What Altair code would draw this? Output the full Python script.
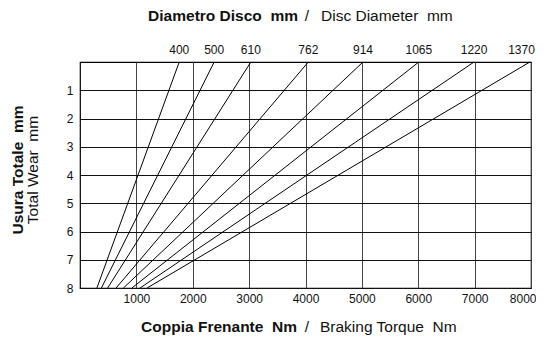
import altair as alt
import pandas as pd

# Disc diameters (mm) and the braking torque (Nm) of each line at 0 mm and 8 mm total wear
diameters = [400, 500, 610, 762, 914, 1065, 1220, 1370]
torque_at_zero_wear = [1760, 2380, 3030, 4050, 5020, 6010, 6990, 7980]
torque_at_max_wear = [300, 380, 490, 640, 770, 920, 1065, 1190]
wear_levels = [0, 8]

x_ticks = [1000, 2000, 3000, 4000, 5000, 6000, 7000, 8000]
y_ticks = [1, 2, 3, 4, 5, 6, 7, 8]

FONT = "Liberation Sans"
NB = "\u00a0"

rows = []
for d, t0, t8 in zip(diameters, torque_at_zero_wear, torque_at_max_wear):
    rows.append({"diameter": d, "torque": t0, "wear": wear_levels[0]})
    rows.append({"diameter": d, "torque": t8, "wear": wear_levels[1]})
lines_df = pd.DataFrame(rows)
labels_df = pd.DataFrame({"diameter": [str(d) for d in diameters], "torque": torque_at_zero_wear})

W, H = 451, 226

x_enc = alt.X(
    "torque:Q",
    scale=alt.Scale(domain=[0, 8000], nice=False, zero=True),
    axis=alt.Axis(
        values=x_ticks, format="d", title=None, grid=True, gridColor="#444444", gridWidth=1,
        ticks=False, domain=False, labelFont=FONT, labelFontSize=12,
        labelColor="#111111", labelPadding=5, labelFlush=True, labelFlushOffset=5,
    ),
)
y_enc = alt.Y(
    "wear:Q",
    scale=alt.Scale(domain=[0, 8], reverse=True, nice=False),
    axis=alt.Axis(
        values=y_ticks, format="d", title=None, grid=True, gridColor="#111111", gridWidth=1,
        ticks=False, domain=False, labelFont=FONT, labelFontSize=12,
        labelColor="#111111", labelPadding=7, labelFlush=False,
    ),
)

lines = alt.Chart(lines_df).mark_line(color="black", strokeWidth=1).encode(
    x=x_enc, y=y_enc, detail="diameter:N"
)

inner_labels = alt.Chart(labels_df.iloc[:-1]).mark_text(
    font=FONT, fontSize=12, color="#111111", baseline="bottom", align="center"
).encode(
    x=alt.X("torque:Q"), y=alt.value(-5), text="diameter:N"
)
edge_label = alt.Chart(labels_df.iloc[-1:]).mark_text(
    font=FONT, fontSize=12, color="#111111", baseline="bottom", align="right", dx=5
).encode(
    x=alt.X("torque:Q"), y=alt.value(-5), text="diameter:N"
)

def txt(s, x, y, bold=False, align="center", angle=0):
    kw = dict(font=FONT, fontSize=15.5, color="#111111", align=align, baseline="middle",
              fontWeight="bold" if bold else "normal")
    if angle:
        kw["angle"] = angle
    return alt.Chart(pd.DataFrame({"t": [s]})).mark_text(**kw).encode(
        text="t:N", x=alt.value(x), y=alt.value(y)
    )

titles = [
    txt(f"Diametro Disco {NB}mm", 218, -46, bold=True, align="right"),
    txt("/", 227, -46),
    txt(f"Disc Diameter {NB}mm", 241, -46, align="left"),
    txt(f"Coppia Frenante {NB}Nm", 217, 265, bold=True, align="right"),
    txt("/", 227, 265),
    txt(f"Braking Torque {NB}Nm", 240, 265, align="left"),
    txt(f"Usura Totale {NB}mm", -62, H / 2 - 5, bold=True, angle=270),
    txt(f"Total Wear {NB}mm", -47, H / 2 - 5, angle=270),
]

chart = alt.layer(lines, inner_labels, edge_label, *titles).properties(
    width=W, height=H,
    autosize=alt.AutoSizeParams(type="none"),
    padding={"left": 72, "top": 54, "right": 5, "bottom": 49},
    background="white",
).configure_view(stroke="black", strokeWidth=1.2)

chart.save("out.html", embed_options={"renderer": "svg", "actions": False})
